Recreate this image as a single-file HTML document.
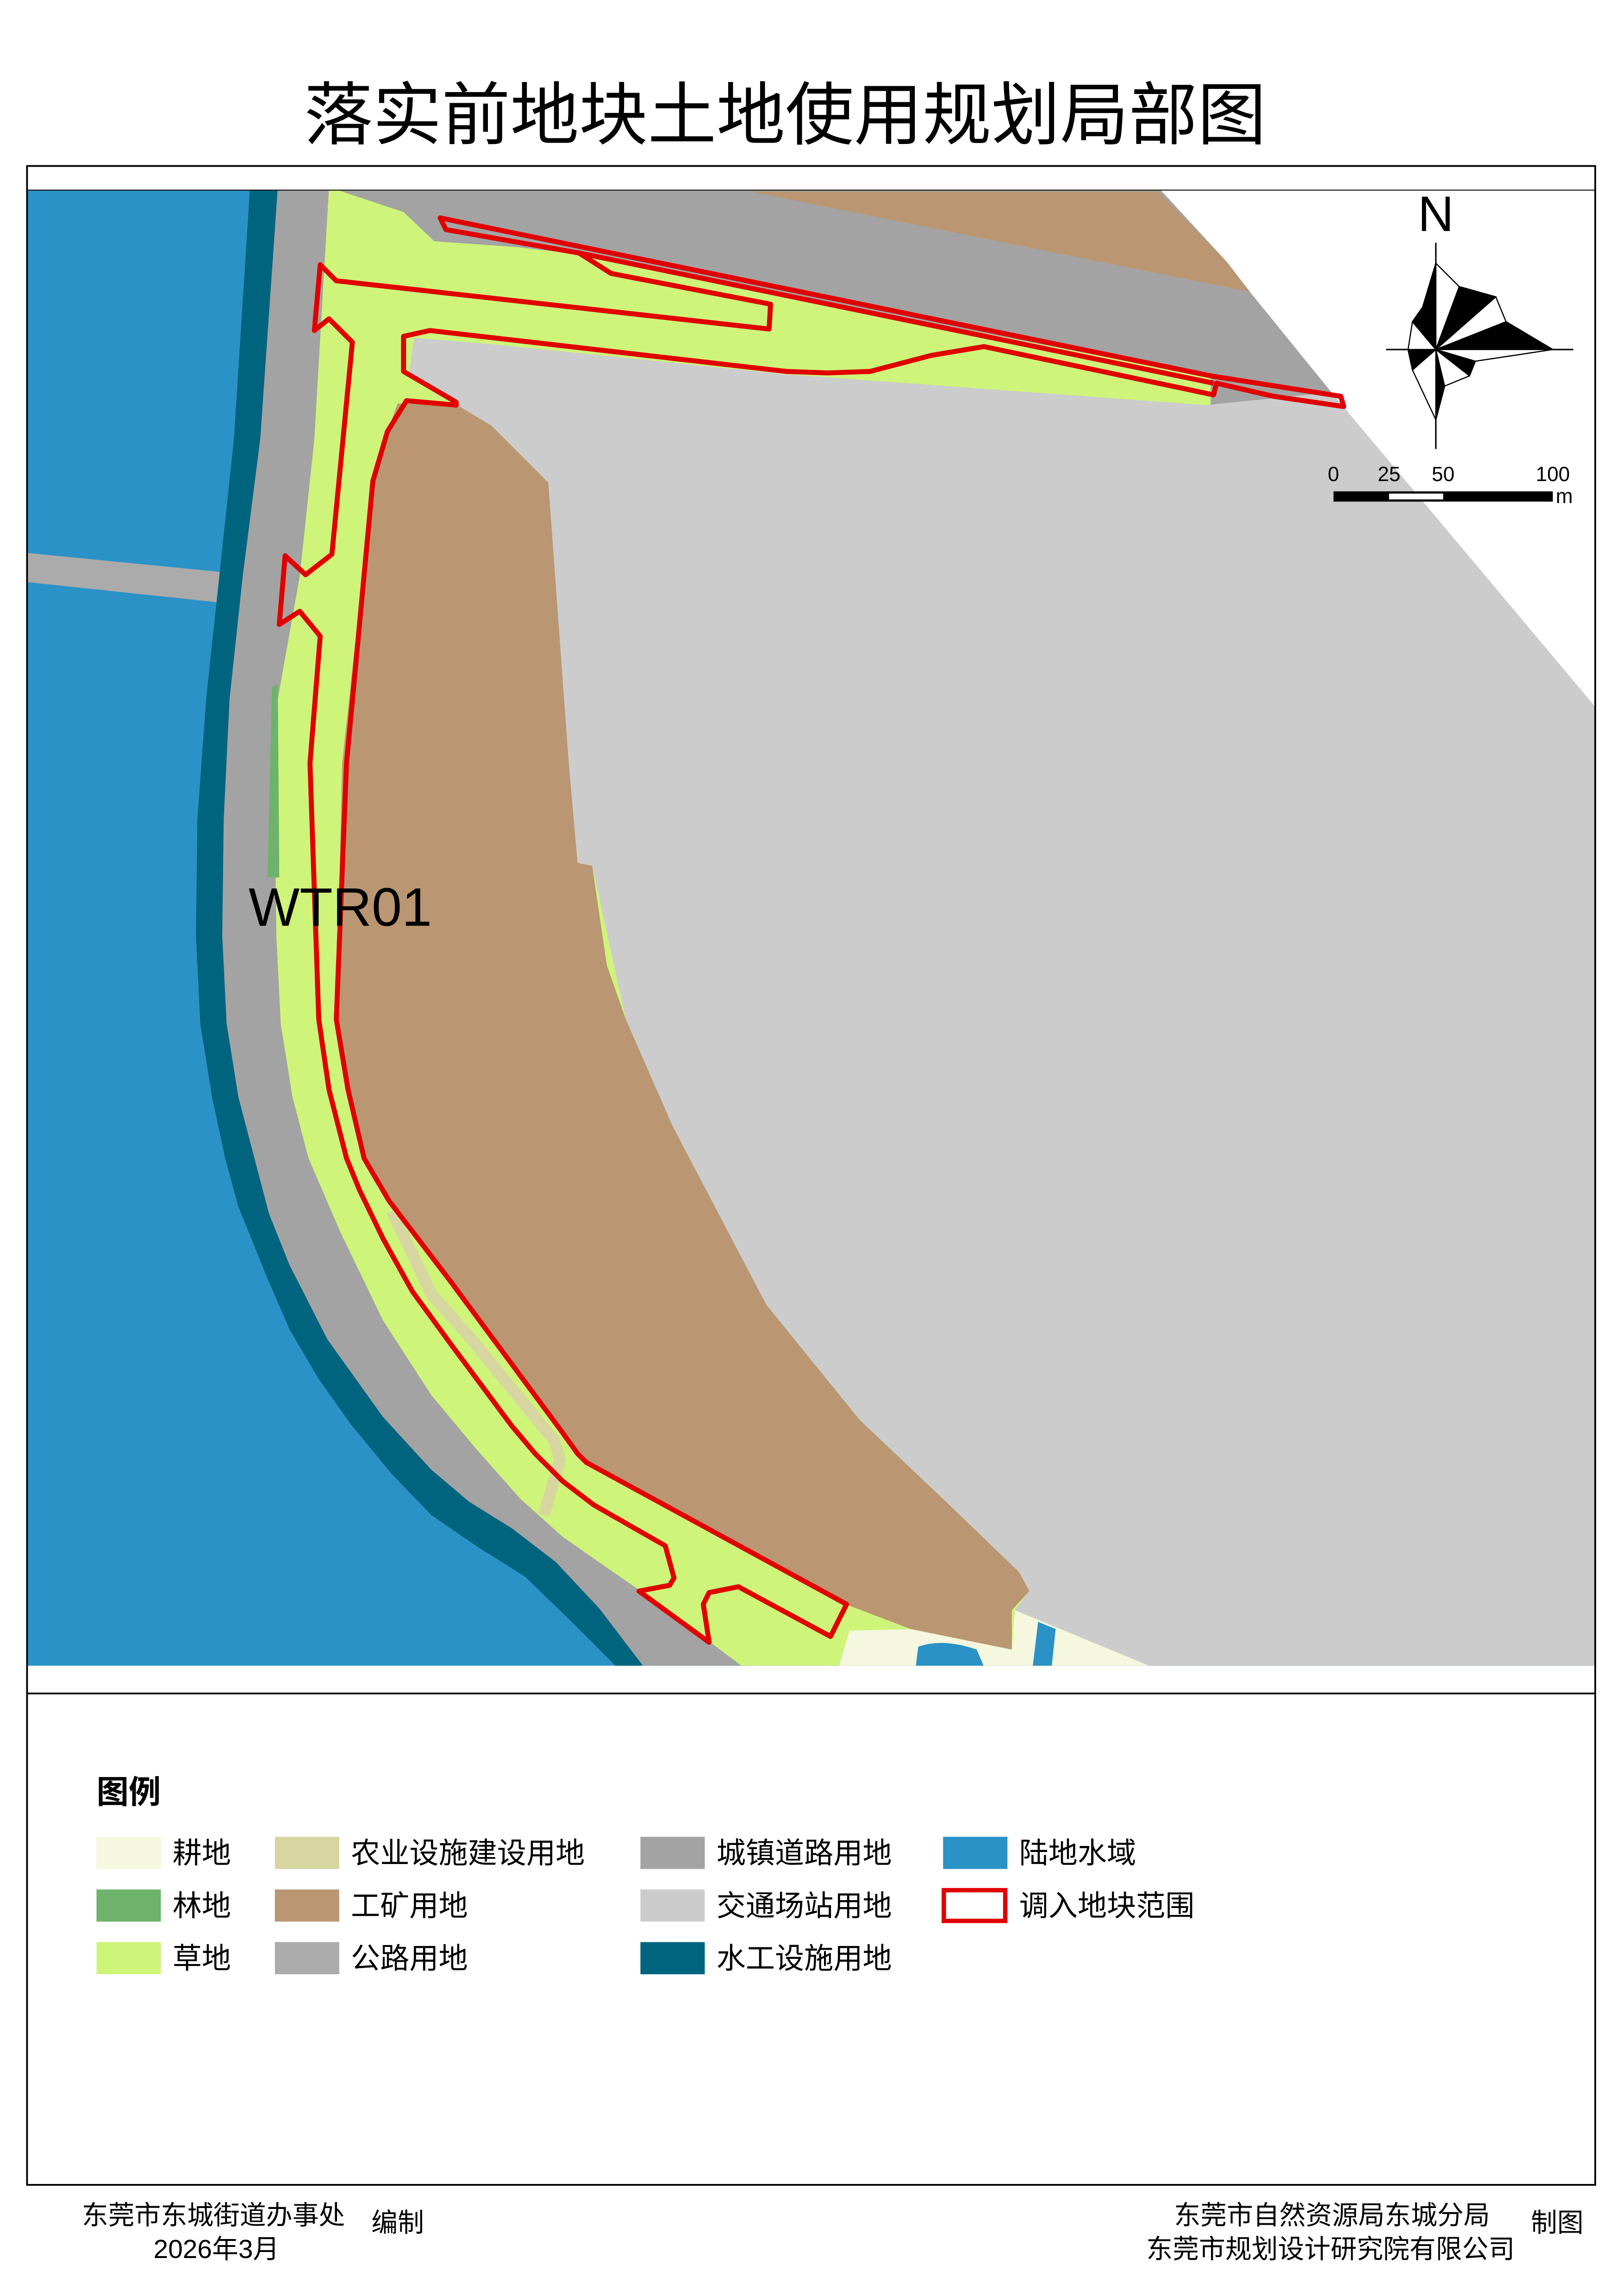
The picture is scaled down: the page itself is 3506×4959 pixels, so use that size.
<!DOCTYPE html>
<html><head><meta charset="utf-8"><style>
html,body{margin:0;padding:0;background:#fff;}
svg{display:block;}
text{font-family:"Liberation Sans","Noto Sans CJK SC",sans-serif;}
</style></head><body>
<svg width="3506" height="4959" viewBox="0 0 1110 1570" preserveAspectRatio="none" xmlns="http://www.w3.org/2000/svg">
<rect width="1110" height="1570" fill="#fff"/>
<text x="537" y="95" font-size="47" text-anchor="middle" font-family="Noto Sans CJK SC, sans-serif">落实前地块土地使用规划局部图</text>
<defs><clipPath id="mc"><rect x="18" y="130" width="1073" height="1009"/></clipPath></defs>
<g clip-path="url(#mc)">
<rect x="18" y="130" width="1073" height="1010" fill="#2A92C6"/>
<polygon fill="#ABABAB" points="18,378 160,392 160,413 18,398"/>
<polygon fill="#00647F" points="171,128 160,300 150,394 141,478 135,560 134,640 137,700 145,750 154,792 163,825 182,872 198,909 218,943 240,974 268,1008 295,1036 327,1058 359,1078 392,1110 424,1142 1100,1142 1100,128"/>
<polygon fill="#A3A3A3" points="190,128 178,300 166,394 157,478 153,560 152,640 155,700 163,750 174,792 184,830 198,865 224,916 262,969 295,1005 321,1027 350,1045 380,1068 410,1100 442,1142 1100,1142 1100,128"/>
<polygon fill="#CEF47A" points="225,128 276,145 297,165 354,169 396,174 828,258 828,280 800,400 800,1142 511,1142 450,1096 418,1074 385,1051 356,1025 325,990 295,954 262,903 233,843 211,792 200,750 192,700 189,640 188,560 190,478 205,394 215,300"/>
<polygon fill="#6DB36A" points="186,470 190,468 191,600 183,600"/>
<polygon fill="#CCCCCC" points="283,231 333,235 538,256 825,277 913,268 1000,250 1100,250 1100,1142 793,1142 694,1101 704,1088 697,1075 644,1024 588,971 524,892 460,770 428,697 405,592 395,590 389,522 375,330 336,291 311,276 280,254"/>
<polygon fill="#BA9672" points="272,276 311,276 336,291 375,330 389,522 395,590 405,592 415,660 428,697 460,770 524,892 588,971 644,1024 697,1075 704,1088 692,1101 692,1128 623,1114 581,1098 401,1000 395,994 385,980 308,876 266,821 249,792 238,745 230,697 234,522 255,329 265,295"/>
<polygon fill="#F5F7DE" points="581,1115 623,1114 692,1128 694,1101 793,1142 573,1142"/>
<path fill="#2A92C6" d="M626,1142 L628,1126 Q645,1120 668,1128 L674,1142 Z"/>
<polygon fill="#2A92C6" points="710,1109 722,1114 719,1142 706,1142"/>
<polyline fill="none" stroke="#D8D6A0" stroke-width="8" stroke-linejoin="round" points="268,828 295,885 321,914 379,985 383,998 372,1036"/>
<polygon fill="#BA9672" points="513,131 792,131 839,179 857,200"/>
<polygon fill="#fff" points="792,128 1100,128 1100,494 912,270 856,201 839,179"/>
<g fill="none" stroke="#E00000" stroke-width="3.4" stroke-linejoin="round">
<polygon points="301,149 828,257 917,271 919,278 871,271 832,262 830,270 673,237 637,243 595,254 566,255 538,254 294,226 276,230 276,254 312,275 312,277 278,274 265,295 255,329 237,522 230,697 238,745 249,792 266,821 308,876 385,980 395,994 401,1000 579,1097 568,1119 505,1085 485,1089 481,1097 485,1123 437,1088 458,1084 461,1079 455,1057 427,1041 406,1029 385,1013 366,994 350,975 309,920 282,883 262,847 246,814 237,792 225,745 218,697 212,522 219,435 205,418 191,427 195,380 209,393 227,379 241,234 225,218 215,226 219,181 230,192 526,225 527,208 418,187 396,173 305,157"/>
<polyline points="396,173 830,262"/>
</g>
<text x="170" y="633" font-size="37">WTR01</text>
</g>
<rect x="18.5" y="113.5" width="1072.5" height="1380.5" fill="none" stroke="#000" stroke-width="1.2"/>
<line x1="18" y1="1158" x2="1091" y2="1158" stroke="#000" stroke-width="1.2"/>
<line x1="18" y1="130" x2="1091" y2="130" stroke="#000" stroke-width="0.6"/>
<text x="982" y="158" font-size="34" text-anchor="middle">N</text>
<line x1="982" y1="166" x2="982" y2="307" stroke="#000" stroke-width="1"/>
<line x1="948" y1="239" x2="1076" y2="239" stroke="#000" stroke-width="1"/>
<g stroke="#000" stroke-width="0.8">
<polygon fill="#fff" points="982,180 998,196 1023,203 1030,220 1062,239 1009,247 1005,257 988,264 982,287 966,253 963,239 966,220 973,210"/>
<polygon fill="#000" points="982,239 982,180 973,210"/>
<polygon fill="#000" points="982,239 998,196 1023,203"/>
<polygon fill="#000" points="982,239 1030,220 1062,239"/>
<polygon fill="#000" points="982,239 1009,247 1005,257"/>
<polygon fill="#000" points="982,239 988,264 982,287"/>
<polygon fill="#000" points="982,239 966,253 963,239"/>
<polygon fill="#000" points="982,239 966,220 973,210"/>
</g>
<g font-size="14">
<text x="912" y="329" text-anchor="middle">0</text>
<text x="950" y="329" text-anchor="middle">25</text>
<text x="987" y="329" text-anchor="middle">50</text>
<text x="1062" y="329" text-anchor="middle">100</text>
<text x="1064" y="344">m</text>
</g>
<rect x="912" y="336" width="150" height="7" fill="#000"/>
<rect x="950" y="337.5" width="37" height="4" fill="#fff"/>
<text x="66" y="1233" font-size="22" font-weight="bold" font-family="Noto Sans CJK SC, sans-serif">图例</text>
<g font-size="20" font-family="Noto Sans CJK SC, sans-serif">
<rect x="66" y="1256" width="44" height="22" fill="#F5F7DE"/><text x="118" y="1274">耕地</text>
<rect x="66" y="1292" width="44" height="22" fill="#6DB36A"/><text x="118" y="1310">林地</text>
<rect x="66" y="1328" width="44" height="22" fill="#CEF47A"/><text x="118" y="1346">草地</text>
<rect x="188" y="1256" width="44" height="22" fill="#D8D6A0"/><text x="240" y="1274">农业设施建设用地</text>
<rect x="188" y="1292" width="44" height="22" fill="#BA9672"/><text x="240" y="1310">工矿用地</text>
<rect x="188" y="1328" width="44" height="22" fill="#ABABAB"/><text x="240" y="1346">公路用地</text>
<rect x="438" y="1256" width="44" height="22" fill="#A3A3A3"/><text x="490" y="1274">城镇道路用地</text>
<rect x="438" y="1292" width="44" height="22" fill="#CCCCCC"/><text x="490" y="1310">交通场站用地</text>
<rect x="438" y="1328" width="44" height="22" fill="#00647F"/><text x="490" y="1346">水工设施用地</text>
<rect x="645" y="1256" width="44" height="22" fill="#2A92C6"/><text x="697" y="1274">陆地水域</text>
<rect x="645.5" y="1292.5" width="42" height="21" fill="#fff" stroke="#E00000" stroke-width="3"/><text x="697" y="1310">调入地块范围</text>
</g>
<g font-size="18" font-family="Noto Sans CJK SC, sans-serif">
<text x="56" y="1521">东莞市东城街道办事处</text>
<text x="148" y="1544" text-anchor="middle">2026年3月</text>
<text x="254" y="1526">编制</text>
<text x="803" y="1521">东莞市自然资源局东城分局</text>
<text x="784" y="1544">东莞市规划设计研究院有限公司</text>
<text x="1047" y="1526">制图</text>
</g>
</svg>
</body></html>
